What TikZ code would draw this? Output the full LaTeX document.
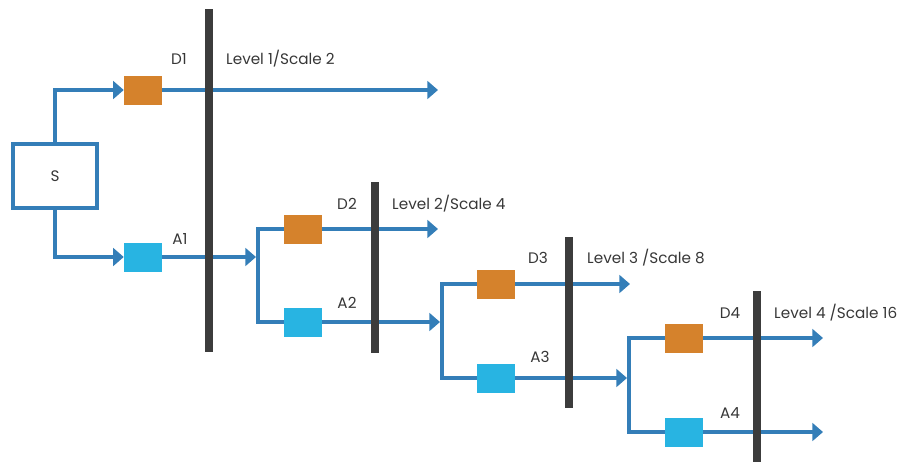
\documentclass[tikz,border=0pt]{standalone}
\usepackage{fontspec}
\setmainfont{Poppins}
\usepackage{tikz}
\usetikzlibrary{arrows.meta,positioning,calc}
\definecolor{flowblue}{RGB}{52,126,184}
\definecolor{detorange}{RGB}{213,130,44}
\definecolor{appcyan}{RGB}{40,180,226}
\definecolor{bargray}{RGB}{60,60,60}
\definecolor{txtgray}{RGB}{55,55,55}

\begin{document}
\begin{tikzpicture}[x=0.03cm,y=-0.03cm,
    flow/.style={line width=3.2pt,flowblue,-{Triangle[length=9pt,width=15pt]}},
    link/.style={line width=3.2pt,flowblue},
    levelbar/.style={line width=6pt,bargray},
    detbox/.style={fill=detorange,minimum width=1.14cm,minimum height=0.87cm,inner sep=0pt},
    appbox/.style={fill=appcyan,minimum width=1.14cm,minimum height=0.87cm,inner sep=0pt},
    lbl/.style={font=\fontsize{13}{15}\selectfont,text=txtgray,inner sep=0pt}]
  \useasboundingbox (0,0) rectangle (898,462);

  % signal
  \node[draw=flowblue,line width=2.6pt,fill=white,minimum width=2.52cm,
        minimum height=1.92cm,lbl] (S) at (55,176) {S};

  % detail / approximation boxes
  \node[detbox] (D1) at (143,90) {};
  \node[appbox] (A1) at (143,257) {};
  \node[detbox] (D2) at (303,229) {};
  \node[appbox] (A2) at (303,322) {};
  \node[detbox] (D3) at (496,284) {};
  \node[appbox] (A3) at (496,378) {};
  \node[detbox] (D4) at (684,338) {};
  \node[appbox] (A4) at (684,432) {};

  % junctions and outputs
  \coordinate (j2) at (258,257);
  \coordinate (j3) at (442,322);
  \coordinate (j4) at (629,378);
  \coordinate (o1) at (438,90);
  \coordinate (o2) at (438,229);
  \coordinate (o3) at (630,284);
  \coordinate (o4) at (823,338);
  \coordinate (o5) at (823,432);

  \draw[flow] (S.north) |- (D1.west);
  \draw[flow] (S.south) |- (A1.west);
  \draw[flow] (D1.east) -- (o1);
  \draw[flow] (A1.east) -- ($(j2)+(-2,0)$);

  \draw[link] (D2.west) -| (j2) |- (A2.west);
  \draw[flow] (D2.east) -- (o2);
  \draw[flow] (A2.east) -- ($(j3)+(-2,0)$);

  \draw[link] (D3.west) -| (j3) |- (A3.west);
  \draw[flow] (D3.east) -- (o3);
  \draw[flow] (A3.east) -- ($(j4)+(-2,0)$);

  \draw[link] (D4.west) -| (j4) |- (A4.west);
  \draw[flow] (D4.east) -- (o4);
  \draw[flow] (A4.east) -- (o5);

  % level separators
  \draw[levelbar] (209,9) -- (209,352);
  \draw[levelbar] (375,182) -- (375,353);
  \draw[levelbar] (569,237) -- (569,408);
  \draw[levelbar] (757,291) -- (757,462);

  % labels
  \node[lbl] (D1l) at (179,59) {D1};
  \node[lbl] (A1l) at (180,239) {A1};
  \node[lbl,anchor=west] (L1) at (226,59) {Level 1/Scale 2};
  \node[lbl] (D2l) at (347,204) {D2};
  \node[lbl] (A2l) at (347,303) {A2};
  \node[lbl,anchor=west] (L2) at (392,204) {Level 2/Scale 4};
  \node[lbl] (D3l) at (538,258) {D3};
  \node[lbl] (A3l) at (540,357) {A3};
  \node[lbl,anchor=west] (L3) at (587,258) {Level 3 /Scale 8};
  \node[lbl] (D4l) at (730,313) {D4};
  \node[lbl] (A4l) at (730,413) {A4};
  \node[lbl,anchor=west] (L4) at (774,313) {Level 4 /Scale 16};
\end{tikzpicture}
\end{document}
